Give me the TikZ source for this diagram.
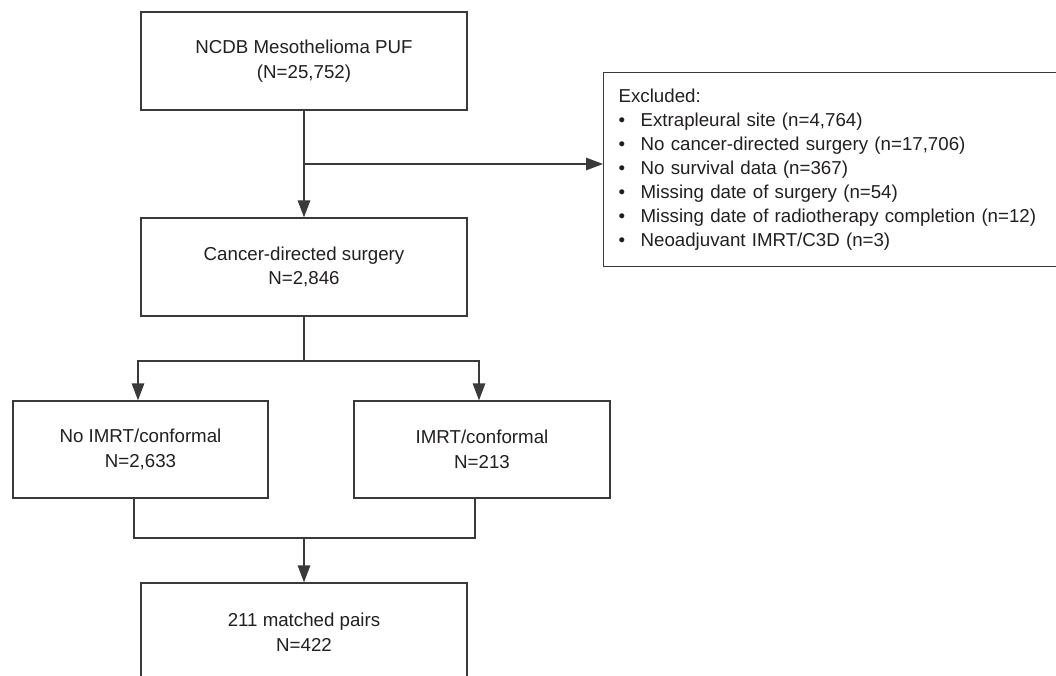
\documentclass[tikz,border=0pt]{standalone}
\usepackage{fontspec}
\setmainfont{Liberation Sans}
\usetikzlibrary{arrows.meta,calc}
\definecolor{ink}{HTML}{231F20}
\definecolor{linecol}{HTML}{3A3A3A}
\begin{document}
\begin{tikzpicture}[x=1pt,y=-1pt,
  box/.style={draw=linecol,line width=1.3pt,fill=white,inner sep=0pt,align=center,text=ink,
    font=\fontsize{18.7}{24.5}\selectfont},
  conn/.style={draw=linecol,line width=1.3pt},
  arr/.style={conn,-{Triangle[length=17pt,width=12.5pt]}}]
\useasboundingbox (0,0) rectangle (1056,676);
\clip (0,0) rectangle (1056,676);
\fill[white] (0,0) rectangle (1056,676);
% nodes
\node[box,minimum width=326pt,minimum height=98pt] (top) at (304,61) {NCDB Mesothelioma PUF\\(N=25,752)};
\node[box,minimum width=326pt,minimum height=98pt] (cancer) at (304,267) {Cancer-directed surgery\\N=2,846};
\node[box,minimum width=255pt,minimum height=97pt] (noimrt) at (140.5,449.5) {No IMRT/conformal\\N=2,633};
\node[box,minimum width=256pt,minimum height=97pt] (imrt) at (482,449.5) {IMRT/conformal\\N=213};
\node[box,minimum width=326pt,minimum height=98pt] (matched) at (304,632) {211 matched pairs\\N=422};
\node[box,anchor=north west,minimum height=194pt,text width=437pt,inner xsep=15pt,align=left,
  font=\fontsize{18.7}{24}\selectfont] (excl) at (603,72)
  {Excluded:\\
   \makebox[22pt][l]{\textbullet}Extrapleural site (n=4,764)\\
   \makebox[22pt][l]{\textbullet}No cancer-directed surgery (n=17,706)\\
   \makebox[22pt][l]{\textbullet}No survival data (n=367)\\
   \makebox[22pt][l]{\textbullet}Missing date of surgery (n=54)\\
   \makebox[22pt][l]{\textbullet}Missing date of radiotherapy completion (n=12)\\
   \makebox[22pt][l]{\textbullet}Neoadjuvant IMRT/C3D (n=3)};
% coordinates
\coordinate (b1) at (304,164);
\coordinate (split) at (304,361);
\coordinate (merge) at (304,538);
% connectors
\draw[arr] (top.south) -- (cancer.north);
\draw[arr] (b1) -- (b1 -| excl.west);
\draw[conn] (cancer.south) -- (split);
\draw[arr] (split) -| ([xshift=-2.5pt]noimrt.north);
\draw[arr] (split) -| ([xshift=-3pt]imrt.north);
\draw[conn] ([xshift=-6.5pt]noimrt.south) |- (merge);
\draw[conn] ([xshift=-7pt]imrt.south) |- (merge);
\draw[arr] (merge) -- (matched.north);
\end{tikzpicture}
\end{document}
